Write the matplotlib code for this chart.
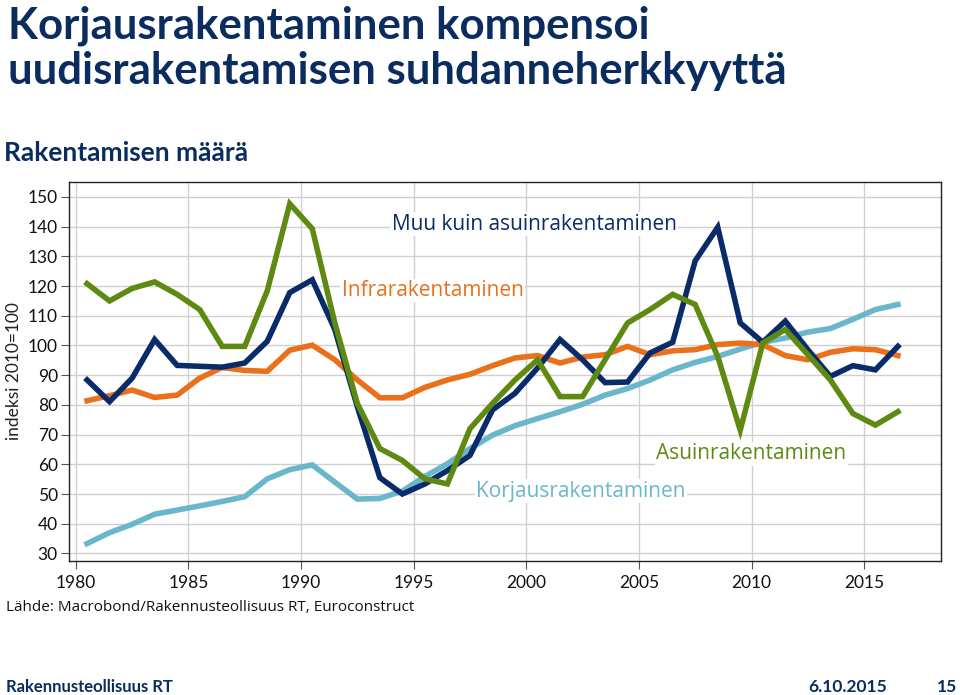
import numpy as np
import matplotlib
matplotlib.use("Agg")
from matplotlib import pyplot as plt

# vuodet 1980-2016, indeksi 2010=100
vuodet = list(range(1980, 2017))

asuin = [120.8, 115.0, 119.2, 121.4, 117.2, 112.1, 99.7, 99.7, 118.4, 147.7,
         139.3, 107.6, 80.5, 65.3, 61.3, 55.1, 53.4, 72.0, 80.5, 88.4,
         95.2, 82.8, 82.8, 95.2, 107.6, 112.1, 117.2, 113.8, 96.3, 71.5,
         100.8, 105.4, 96.9, 88.4, 77.1, 73.2, 77.7]

muu = [88.4, 81.1, 89.0, 102.0, 93.3, 93.0, 92.7, 94.1, 101.4, 117.8,
       122.1, 105.4, 79.4, 55.5, 50.0, 53.4, 57.9, 63.0, 78.3, 83.9,
       92.4, 102.0, 95.2, 87.5, 87.7, 97.5, 101.1, 128.5, 139.8, 107.6,
       101.1, 108.2, 98.6, 89.6, 93.2, 91.8, 99.7]

infra = [81.4, 83.1, 85.0, 82.5, 83.3, 89.0, 92.6, 91.6, 91.3, 98.4,
         100.1, 95.2, 88.4, 82.4, 82.4, 85.9, 88.4, 90.3, 93.2, 95.8,
         96.6, 94.1, 96.1, 96.9, 99.7, 96.9, 98.2, 98.6, 100.3, 100.8,
         100.3, 96.6, 95.2, 97.7, 98.9, 98.6, 96.6]

korjaus = [33.3, 37.0, 39.8, 43.2, 44.6, 46.0, 47.5, 49.1, 55.1, 58.2,
           59.8, 54.0, 48.3, 48.5, 51.0, 55.9, 60.2, 65.3, 69.8, 73.0,
           75.4, 77.7, 80.2, 83.3, 85.5, 88.4, 91.8, 94.3, 96.3, 98.8,
           101.1, 102.5, 104.5, 105.7, 108.8, 112.1, 113.8]

navy = '#0A2B6A'
vihrea = '#5E8A12'
oranssi = '#EA701C'
vaaleansin = '#6AB6CA'

x = np.array(vuodet) + 0.5  # vuosiarvot vuoden puoliväliin

fig = plt.figure(figsize=(9.6, 6.95), dpi=100)
ax = fig.add_axes([0.0719, 0.193, 0.908, 0.545])

lw = 4.0
ax.plot(x, korjaus, color=vaaleansin, lw=lw, solid_joinstyle='miter', zorder=3)
ax.plot(x, infra, color=oranssi, lw=lw, solid_joinstyle='miter', zorder=4)
ax.plot(x, muu, color=navy, lw=lw, solid_joinstyle='miter', zorder=5)
ax.plot(x, asuin, color=vihrea, lw=lw, solid_joinstyle='miter', zorder=6)

ax.set_xlim(1979.7, 2018.4)
ax.set_ylim(27.5, 155)
ax.set_yticks(range(30, 151, 10))
ax.set_xticks(range(1980, 2016, 5))
ax.grid(True, color='#D0D0D0', lw=1.0)
ax.set_axisbelow(True)
for s in ax.spines.values():
    s.set_color('#222222')
    s.set_linewidth(1.0)
ax.tick_params(axis='both', direction='out', length=6, width=0.8, color='#555555',
               labelsize=12.5, labelcolor='#111111')
ax.tick_params(axis='y', pad=2)
ax.tick_params(axis='x', pad=4)
for lab in ax.get_xticklabels() + ax.get_yticklabels():
    lab.set_family('Lato')
ax.set_ylabel('indeksi 2010=100', fontsize=12.5, family='Lato', color='#222222', labelpad=4)

box = dict(facecolor='white', edgecolor='none', pad=1.0)
ax.text(2000.36, 140.8, 'Muu kuin asuinrakentaminen', color=navy, fontsize=15,
        family='Open Sans', ha='center', va='center', bbox=box, zorder=7)
ax.text(1995.84, 118.5, 'Infrarakentaminen', color=oranssi, fontsize=15,
        family='Open Sans', ha='center', va='center', bbox=box, zorder=7)
ax.text(2009.98, 63.6, 'Asuinrakentaminen', color=vihrea, fontsize=15,
        family='Open Sans', ha='center', va='center', bbox=box, zorder=7)
ax.text(2002.44, 51.0, 'Korjausrakentaminen', color=vaaleansin, fontsize=15,
        family='Open Sans', ha='center', va='center', bbox=box, zorder=7)

otsikko = '#0B2C5F'
fig.text(0.008, 0.992, 'Korjausrakentaminen kompensoi\nuudisrakentamisen suhdanneherkkyyttä',
         color=otsikko, fontsize=31.5, weight='bold', family='Lato', ha='left', va='top',
         linespacing=1.15)
fig.text(0.004, 0.780, 'Rakentamisen määrä', color=otsikko, fontsize=19, weight='bold',
         family='Lato', ha='left', va='center')
fig.text(0.006, 0.126, 'Lähde: Macrobond/Rakennusteollisuus RT, Euroconstruct', color='#111111',
         fontsize=11, family='Open Sans', ha='left', va='center')
fig.text(0.006, 0.011, 'Rakennusteollisuus RT', color=otsikko, fontsize=12, weight='bold',
         family='Lato', ha='left', va='center')
fig.text(0.924, 0.011, '6.10.2015', color=otsikko, fontsize=12.5, weight='bold',
         family='Lato', ha='right', va='center')
fig.text(0.997, 0.011, '15', color=otsikko, fontsize=12.5, weight='bold',
         family='Lato', ha='right', va='center')

fig.savefig('out.png', dpi=100)
